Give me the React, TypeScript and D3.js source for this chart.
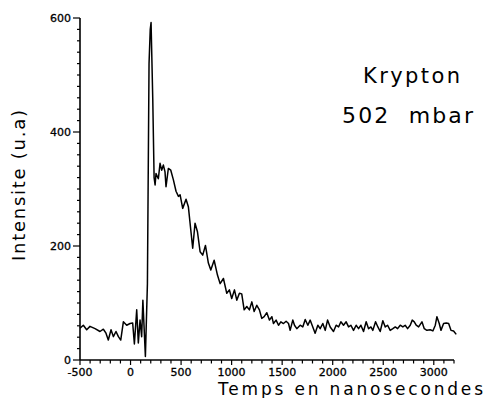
import React, { useRef, useEffect } from 'react'
import * as d3 from 'd3'

// Krypton, 502 mbar : intensite vs temps (ns)
const timeNs = [
  -500, -467, -434, -401, -351, -302, -269, -243, -220, -193, -170, -144, -120, -97, -71, -38, -5, 21, 38, 61,
  77, 94, 110, 122, 147, 167, 183, 195, 203, 220, 233, 243, 252, 275, 292, 308, 325, 341, 351, 374,
  398, 424, 450, 474, 490, 516, 549, 572, 596, 615, 638, 662, 688, 714, 741, 770, 794, 827, 860, 886,
  919, 952, 978, 1001, 1028, 1051, 1077, 1100, 1124, 1150, 1176, 1200, 1223, 1249, 1275, 1298, 1322, 1348, 1374, 1398,
  1414, 1440, 1464, 1487, 1513, 1539, 1563, 1579, 1605, 1622, 1645, 1678, 1704, 1728, 1754, 1777, 1803, 1826, 1853, 1876,
  1902, 1926, 1949, 1975, 2008, 2034, 2058, 2081, 2107, 2133, 2157, 2180, 2206, 2232, 2256, 2279, 2305, 2331, 2355, 2378,
  2397, 2424, 2447, 2470, 2496, 2520, 2543, 2569, 2595, 2619, 2642, 2668, 2694, 2717, 2741, 2767, 2787, 2807, 2826, 2850,
  2883, 2906, 2932, 2965, 2991, 3015, 3031, 3054, 3071, 3097, 3123, 3147, 3170, 3196, 3222,
]

const intensity = [
  56, 61, 53, 59, 55, 50, 54, 47, 35, 53, 41, 50, 41, 35, 67, 61, 64, 65, 28, 88,
  30, 70, 41, 105, 6, 134, 520, 580, 592, 456, 320, 307, 327, 318, 345, 333, 342, 330, 304, 336,
  333, 316, 296, 287, 290, 266, 282, 269, 228, 196, 240, 225, 190, 184, 201, 170, 158, 175, 149, 134,
  143, 117, 123, 108, 123, 105, 117, 116, 88, 94, 88, 102, 85, 96, 88, 73, 76, 83, 70, 76,
  64, 70, 61, 67, 64, 68, 64, 52, 70, 61, 55, 61, 58, 71, 61, 70, 58, 47, 61, 55,
  64, 52, 70, 58, 50, 61, 58, 67, 61, 67, 58, 61, 52, 61, 55, 61, 50, 67, 55, 58,
  52, 67, 58, 50, 69, 58, 61, 52, 55, 58, 55, 61, 58, 61, 55, 61, 70, 67, 61, 58,
  67, 55, 52, 53, 51, 61, 76, 64, 52, 64, 65, 64, 52, 51, 45,
]

const xTickValues = [-500, 0, 500, 1000, 1500, 2000, 2500, 3000]
const xTickLabels = ['-500', '0', '500', '1000', '1500', '2000', '2500', '3000']
const yTickValues = [0, 200, 400, 600]
const yTickLabels = ['0', '200', '400', '600']

const Chart: React.FC = () => {
  const svgRef = useRef<SVGSVGElement>(null)

  useEffect(() => {
    if (!svgRef.current) return
    document.body.style.margin = '0'

    const svg = d3.select(svgRef.current)
    svg.selectAll('*').remove()

    const x = d3.scaleLinear().domain([-500, 3200]).range([80, 454])
    const y = d3.scaleLinear().domain([0, 600]).range([360, 18])

    const font = "'DejaVu Sans', sans-serif"

    // x axis: line, minor ticks every 100, major every 500
    svg.append('line')
      .attr('x1', x(-500)).attr('x2', x(3200))
      .attr('y1', y(0)).attr('y2', y(0))
      .attr('stroke', '#000').attr('stroke-width', 1.6)

    const xMinor = d3.range(-500, 3201, 100)
    svg.selectAll('.xminor')
      .data(xMinor)
      .enter()
      .append('line')
      .attr('x1', d => x(d)).attr('x2', d => x(d))
      .attr('y1', y(0))
      .attr('y2', d => y(0) + (d % 500 === 0 ? 5 : 3.5))
      .attr('stroke', '#000').attr('stroke-width', 1.2)

    svg.selectAll('.xlabel')
      .data(xTickValues)
      .enter()
      .append('text')
      .attr('x', d => x(d))
      .attr('y', 376)
      .attr('text-anchor', 'middle')
      .style('font-family', font)
      .style('font-size', '11px')
      .style('fill', '#000')
      .style('stroke', '#000')
      .style('stroke-width', 0.3)
      .text((_d, i) => xTickLabels[i])

    // y axis: minor every 20, major every 200
    svg.append('line')
      .attr('x1', x(-500)).attr('x2', x(-500))
      .attr('y1', y(0)).attr('y2', y(600))
      .attr('stroke', '#000').attr('stroke-width', 1.6)

    const yMinor = d3.range(0, 601, 20)
    svg.selectAll('.yminor')
      .data(yMinor)
      .enter()
      .append('line')
      .attr('x1', d => x(-500) - (d % 200 === 0 ? 7 : 3))
      .attr('x2', x(-500))
      .attr('y1', d => y(d)).attr('y2', d => y(d))
      .attr('stroke', '#000').attr('stroke-width', 1.2)

    svg.selectAll('.ylabel')
      .data(yTickValues)
      .enter()
      .append('text')
      .attr('x', 71)
      .attr('y', d => y(d) + 4)
      .attr('text-anchor', 'end')
      .style('font-family', font)
      .style('font-size', '11px')
      .style('fill', '#000')
      .style('stroke', '#000')
      .style('stroke-width', 0.3)
      .text((_d, i) => yTickLabels[i])

    // signal trace
    const pts: [number, number][] = timeNs.map((t, i) => [t, intensity[i]])
    const line = d3.line<[number, number]>()
      .x(d => x(d[0]))
      .y(d => y(d[1]))

    svg.append('path')
      .datum(pts)
      .attr('d', line)
      .attr('fill', 'none')
      .attr('stroke', '#000')
      .attr('stroke-width', 1.5)
      .attr('stroke-linejoin', 'round')

    // axis titles
    svg.append('text')
      .attr('x', 218)
      .attr('y', 395)
      .attr('textLength', 265)
      .attr('lengthAdjust', 'spacing')
      .style('font-family', font)
      .style('font-size', '17px')
      .style('fill', '#000')
      .text('Temps en nanosecondes')

    svg.append('text')
      .attr('transform', 'translate(25, 261) rotate(-90)')
      .attr('textLength', 151)
      .attr('lengthAdjust', 'spacing')
      .style('font-family', font)
      .style('font-size', '18px')
      .style('fill', '#000')
      .text('Intensite (u.a)')

    // annotation
    svg.append('text')
      .attr('x', 363)
      .attr('y', 83)
      .attr('textLength', 97)
      .attr('lengthAdjust', 'spacing')
      .style('font-family', font)
      .style('font-size', '21px')
      .style('fill', '#000')
      .text('Krypton')

    svg.append('text')
      .attr('x', 342)
      .attr('y', 123)
      .attr('textLength', 131)
      .attr('lengthAdjust', 'spacing')
      .style('font-family', font)
      .style('font-size', '22px')
      .style('white-space', 'pre')
      .style('fill', '#000')
      .text('502  mbar')
  }, [])

  return <svg ref={svgRef} width={485} height={398} style={{ display: 'block', background: '#fff' }} />
}

export default function App() {
  return <Chart />
}
